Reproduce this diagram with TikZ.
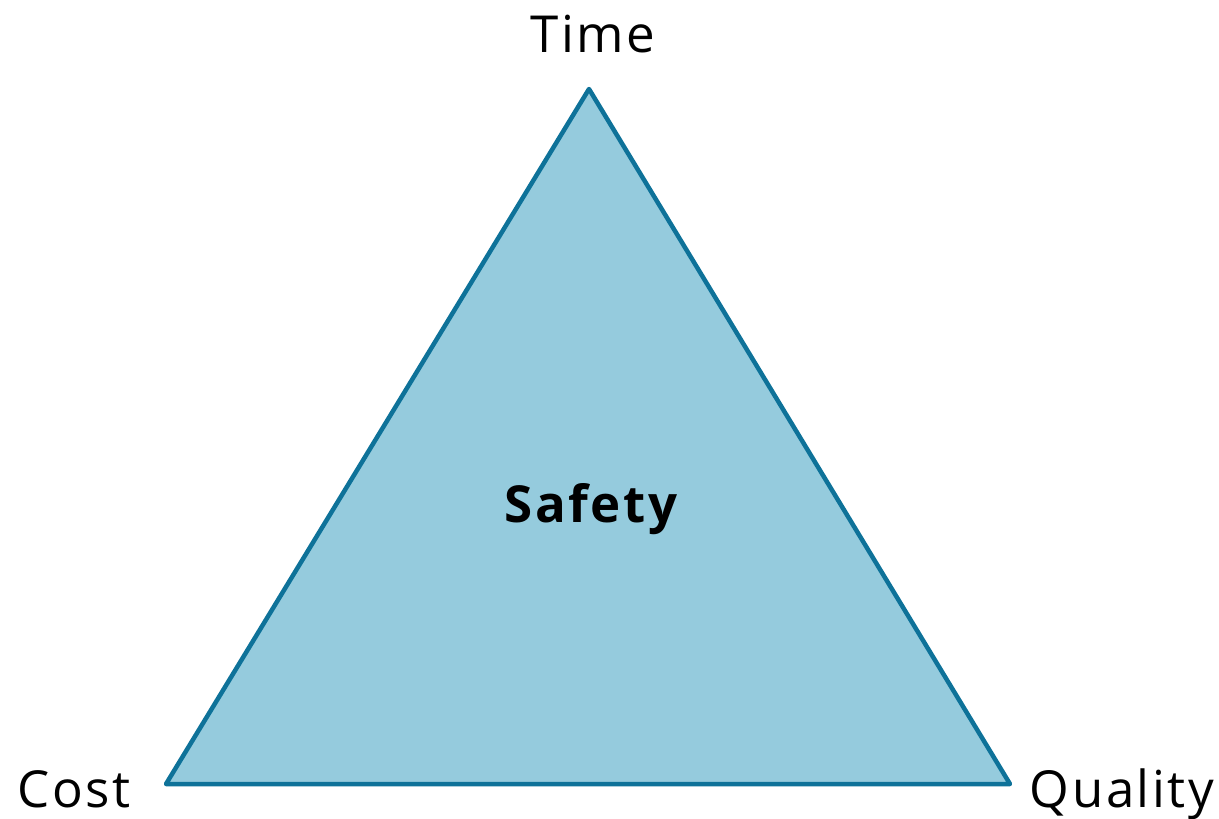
\documentclass[tikz,border=0pt]{standalone}
\usepackage{fontspec}
\setmainfont{Open Sans}[LetterSpace=5]
\definecolor{triFill}{HTML}{95CBDD}
\definecolor{triLine}{HTML}{0E7299}
\begin{document}
\begin{tikzpicture}[x=1pt,y=-1pt,
  lbl/.style={inner sep=0pt,anchor=base,font=\fontsize{51}{60}\selectfont},
  tri/.style={draw=triLine,fill=triFill,line width=4.5pt,line join=round}]
\useasboundingbox (0,0) rectangle (1219,819);
\coordinate (T) at (589,89);
\coordinate (L) at (166,784);
\coordinate (R) at (1010,784);
\draw[tri] (T) -- (L) -- (R) -- cycle;
\node[lbl] (time) at (593,52) {Time};
\node[lbl] (cost) at (74,807) {Cost};
\node[lbl] (quality) at (1122,807) {Quality};
\node[lbl,font=\fontsize{51}{60}\selectfont\bfseries] (safety) at (591,522) {Safety};
\end{tikzpicture}
\end{document}
